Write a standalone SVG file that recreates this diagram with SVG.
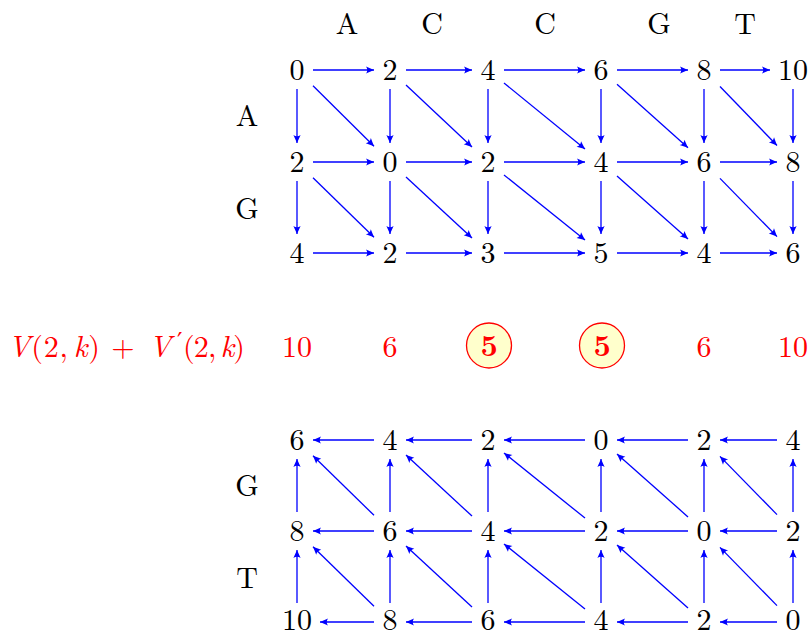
<svg xmlns="http://www.w3.org/2000/svg" width="811" height="635" viewBox="0 0 811 635">
<style>
text{font-family:"Latin Modern Roman","Liberation Serif","DejaVu Serif",serif;font-size:30px;text-anchor:middle;fill:#000}
.r{fill:#ff0000}
.b{font-weight:bold}
.i{font-style:italic}
.st{text-anchor:start}
.pr{font-family:"DejaVu Sans",sans-serif;font-size:24px;text-anchor:start}
#edges line{stroke:#0000ff;stroke-width:1.3;marker-end:url(#ah)}
.hl{fill:#ffffcc;stroke:#ff0000;stroke-width:1.3}
</style>
<defs>
<marker id="ah" markerUnits="userSpaceOnUse" markerWidth="12" markerHeight="10" viewBox="-9 -5 10 10" refX="0" refY="0" orient="auto">
<path d="M0,0 L-8,-3.6 Q-5.5,0 -8,3.6 Z" fill="#0000ff"/>
</marker>
</defs>
<rect width="811" height="635" fill="#fff"/>
<g id="headers">
<text x="347" y="34">A</text>
<text x="432" y="34">C</text>
<text x="545" y="34">C</text>
<text x="659" y="34">G</text>
<text x="745" y="34">T</text>
<text x="247" y="126">A</text>
<text x="247" y="219">G</text>
<text x="247" y="496">G</text>
<text x="247" y="588">T</text>
</g>
<g id="edges">
<!-- top grid horizontal -->
<line x1="313" y1="70" x2="374" y2="70"/><line x1="406" y1="70" x2="472" y2="70"/><line x1="504" y1="70" x2="585" y2="70"/><line x1="617" y1="70" x2="688" y2="70"/><line x1="720" y1="70" x2="770" y2="70"/>
<line x1="313" y1="162" x2="374" y2="162"/><line x1="406" y1="162" x2="472" y2="162"/><line x1="504" y1="162" x2="585" y2="162"/><line x1="617" y1="162" x2="688" y2="162"/><line x1="720" y1="162" x2="777" y2="162"/>
<line x1="313" y1="253" x2="374" y2="253"/><line x1="406" y1="253" x2="472" y2="253"/><line x1="504" y1="253" x2="585" y2="253"/><line x1="617" y1="253" x2="688" y2="253"/><line x1="720" y1="253" x2="777" y2="253"/>
<!-- top grid vertical -->
<line x1="297" y1="89" x2="297" y2="143"/><line x1="390" y1="89" x2="390" y2="143"/><line x1="488" y1="89" x2="488" y2="143"/><line x1="601" y1="89" x2="601" y2="143"/><line x1="704" y1="89" x2="704" y2="143"/><line x1="793" y1="89" x2="793" y2="143"/>
<line x1="297" y1="181" x2="297" y2="234"/><line x1="390" y1="181" x2="390" y2="234"/><line x1="488" y1="181" x2="488" y2="234"/><line x1="601" y1="181" x2="601" y2="234"/><line x1="704" y1="181" x2="704" y2="234"/><line x1="793" y1="181" x2="793" y2="234"/>
<!-- top grid diagonals -->
<line x1="313" y1="85.8" x2="374" y2="146.2"/><line x1="406" y1="85" x2="472" y2="147"/><line x1="504" y1="83" x2="585" y2="149"/><line x1="617" y1="84.3" x2="688" y2="147.7"/><line x1="720" y1="86.5" x2="777" y2="145.5"/>
<line x1="313" y1="177.7" x2="374" y2="237.3"/><line x1="406" y1="176.9" x2="472" y2="238.1"/><line x1="504" y1="174.9" x2="585" y2="240.1"/><line x1="617" y1="176.1" x2="688" y2="238.9"/><line x1="720" y1="178.4" x2="777" y2="236.6"/>
<!-- bottom grid horizontal -->
<line x1="374" y1="440" x2="313" y2="440"/><line x1="472" y1="440" x2="406" y2="440"/><line x1="585" y1="440" x2="504" y2="440"/><line x1="688" y1="440" x2="617" y2="440"/><line x1="777" y1="440" x2="720" y2="440"/>
<line x1="374" y1="531" x2="313" y2="531"/><line x1="472" y1="531" x2="406" y2="531"/><line x1="585" y1="531" x2="504" y2="531"/><line x1="688" y1="531" x2="617" y2="531"/><line x1="777" y1="531" x2="720" y2="531"/>
<line x1="374" y1="622" x2="320" y2="622"/><line x1="472" y1="622" x2="406" y2="622"/><line x1="585" y1="622" x2="504" y2="622"/><line x1="688" y1="622" x2="617" y2="622"/><line x1="777" y1="622" x2="720" y2="622"/>
<!-- bottom grid vertical -->
<line x1="297" y1="512" x2="297" y2="459"/><line x1="390" y1="512" x2="390" y2="459"/><line x1="488" y1="512" x2="488" y2="459"/><line x1="601" y1="512" x2="601" y2="459"/><line x1="704" y1="512" x2="704" y2="459"/><line x1="793" y1="512" x2="793" y2="459"/>
<line x1="297" y1="603" x2="297" y2="550"/><line x1="390" y1="603" x2="390" y2="550"/><line x1="488" y1="603" x2="488" y2="550"/><line x1="601" y1="603" x2="601" y2="550"/><line x1="704" y1="603" x2="704" y2="550"/><line x1="793" y1="603" x2="793" y2="550"/>
<!-- bottom grid diagonals -->
<line x1="374" y1="515.3" x2="313" y2="455.7"/><line x1="472" y1="516.1" x2="406" y2="454.9"/><line x1="585" y1="518.1" x2="504" y2="452.9"/><line x1="688" y1="516.9" x2="617" y2="454.1"/><line x1="777" y1="514.6" x2="720" y2="456.4"/>
<line x1="374" y1="606.3" x2="313" y2="546.7"/><line x1="472" y1="607.1" x2="406" y2="545.9"/><line x1="585" y1="609.1" x2="504" y2="543.9"/><line x1="688" y1="607.9" x2="617" y2="545.1"/><line x1="777" y1="605.6" x2="720" y2="547.4"/>
</g>
<g id="top-grid">
<g id="t00"><text x="297" y="80">0</text></g>
<g id="t01"><text x="390" y="80">2</text></g>
<g id="t02"><text x="488" y="80">4</text></g>
<g id="t03"><text x="601" y="80">6</text></g>
<g id="t04"><text x="704" y="80">8</text></g>
<g id="t05"><text x="793" y="80">10</text></g>
<g id="t10"><text x="297" y="172">2</text></g>
<g id="t11"><text x="390" y="172">0</text></g>
<g id="t12"><text x="488" y="172">2</text></g>
<g id="t13"><text x="601" y="172">4</text></g>
<g id="t14"><text x="704" y="172">6</text></g>
<g id="t15"><text x="793" y="172">8</text></g>
<g id="t20"><text x="297" y="263">4</text></g>
<g id="t21"><text x="390" y="263">2</text></g>
<g id="t22"><text x="488" y="263">3</text></g>
<g id="t23"><text x="601" y="263">5</text></g>
<g id="t24"><text x="704" y="263">4</text></g>
<g id="t25"><text x="793" y="263">6</text></g>
</g>
<g id="middle">
<g id="label">
<text class="r st" x="8" y="357" textLength="92" lengthAdjust="spacing"><tspan class="i">V</tspan>(2,<tspan class="i" dx="5">k</tspan>)</text>
<text class="r" x="123" y="357">+</text>
<text class="r st i" x="149" y="357">V</text>
<text class="r pr" x="177" y="350">&#8242;</text>
<text class="r st" x="183" y="357" textLength="62" lengthAdjust="spacing">(2,<tspan class="i" dx="5">k</tspan>)</text>
</g>
<g id="m0"><text class="r" x="297" y="357">10</text></g>
<g id="m1"><text class="r" x="390" y="357">6</text></g>
<g id="m2"><ellipse class="hl" cx="489" cy="345.5" rx="22.5" ry="22.5"/><text class="r b" x="489" y="356">5</text></g>
<g id="m3"><ellipse class="hl" cx="602" cy="345.5" rx="22.5" ry="22.5"/><text class="r b" x="602" y="356">5</text></g>
<g id="m4"><text class="r" x="704" y="357">6</text></g>
<g id="m5"><text class="r" x="793" y="357">10</text></g>
</g>
<g id="bottom-grid">
<g id="b00"><text x="297" y="450">6</text></g>
<g id="b01"><text x="390" y="450">4</text></g>
<g id="b02"><text x="488" y="450">2</text></g>
<g id="b03"><text x="601" y="450">0</text></g>
<g id="b04"><text x="704" y="450">2</text></g>
<g id="b05"><text x="793" y="450">4</text></g>
<g id="b10"><text x="297" y="541">8</text></g>
<g id="b11"><text x="390" y="541">6</text></g>
<g id="b12"><text x="488" y="541">4</text></g>
<g id="b13"><text x="601" y="541">2</text></g>
<g id="b14"><text x="704" y="541">0</text></g>
<g id="b15"><text x="793" y="541">2</text></g>
<g id="b20"><text x="297" y="630">10</text></g>
<g id="b21"><text x="390" y="630">8</text></g>
<g id="b22"><text x="488" y="630">6</text></g>
<g id="b23"><text x="601" y="630">4</text></g>
<g id="b24"><text x="704" y="630">2</text></g>
<g id="b25"><text x="793" y="630">0</text></g>
</g>
</svg>
